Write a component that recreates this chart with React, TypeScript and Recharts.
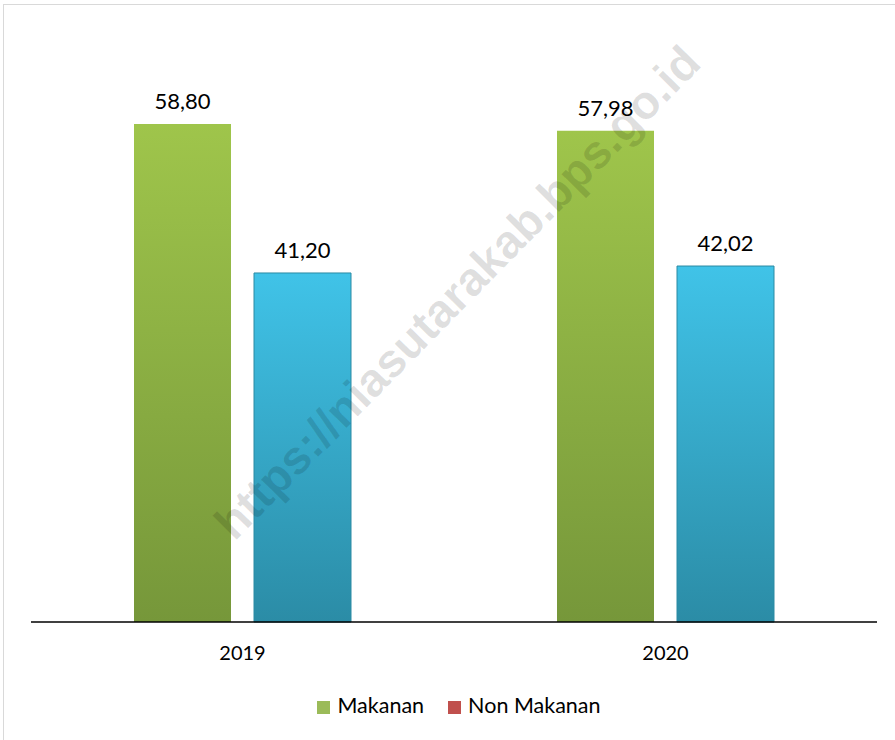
import React from 'react';
import { BarChart, Bar, XAxis, YAxis, Legend, LabelList, Cell } from 'recharts';

// share of expenditure (%) per year
const years = ['2019', '2020'];
const makanan = [58.8, 57.98];
const nonMakanan = [41.2, 42.02];

const data = years.map((year, i) => ({
  year,
  makanan: makanan[i],
  nonMakanan: nonMakanan[i],
}));

const fmt = (v: any) => Number(v).toFixed(2).replace('.', ',');

const FONT = 'Lato, "Open Sans", sans-serif';

const App: React.FC = () => {
  return (
    <div
      style={{
        position: 'absolute',
        left: 0,
        top: 0,
        width: 895,
        height: 740,
        background: '#fff',
        overflow: 'hidden',
        fontFamily: FONT,
      }}
    >
      {/* light frame of the original chart box */}
      <div
        style={{
          position: 'absolute',
          left: 3,
          top: 4,
          width: 900,
          height: 750,
          border: '1px solid #d9d9d9',
        }}
      />
      <BarChart
        width={895}
        height={740}
        data={data}
        margin={{ top: 29, right: 18, left: 31, bottom: 16 }}
        barCategoryGap={103}
        barGap={23}
        style={{ position: 'absolute', left: 0, top: 0 }}
      >
        <defs>
          <linearGradient id="gGreen" x1="0" y1="0" x2="0" y2="1">
            <stop offset="0%" stopColor="#9fc54b" />
            <stop offset="100%" stopColor="#76973a" />
          </linearGradient>
          <linearGradient id="gCyan" x1="0" y1="0" x2="0" y2="1">
            <stop offset="0%" stopColor="#40c3e8" />
            <stop offset="100%" stopColor="#2b8ca6" />
          </linearGradient>
        </defs>
        <XAxis
          dataKey="year"
          height={70}
          tickLine={false}
          tickMargin={18}
          axisLine={{ stroke: '#000', strokeWidth: 1.5 }}
          tick={{ fill: '#000', fontSize: 20, fontFamily: FONT }}
        />
        <YAxis hide domain={[0, 70]} />
        <Legend
          verticalAlign="bottom"
          height={32}
          iconType="square"
          iconSize={13}
          wrapperStyle={{ fontSize: 21.5, fontFamily: FONT, paddingLeft: 17 }}
          formatter={(value) => (
            <span style={{ color: '#000', marginLeft: 3, marginRight: 14 }}>{value}</span>
          )}
        />
        <Bar dataKey="makanan" name="Makanan" fill="#9bbb59" isAnimationActive={false}>
          {data.map((_, i) => (
            <Cell key={i} fill="url(#gGreen)" />
          ))}
          <LabelList
            dataKey="makanan"
            position="top"
            offset={15}
            formatter={fmt}
            style={{ fill: '#000', fontSize: 22, fontFamily: FONT }}
          />
        </Bar>
        <Bar dataKey="nonMakanan" name="Non Makanan" fill="#c0504d" isAnimationActive={false}>
          {data.map((_, i) => (
            <Cell key={i} fill="url(#gCyan)" stroke="#2a8aa3" strokeWidth={1} />
          ))}
          <LabelList
            dataKey="nonMakanan"
            position="top"
            offset={15}
            formatter={fmt}
            style={{ fill: '#000', fontSize: 22, fontFamily: FONT }}
          />
        </Bar>
      </BarChart>
      {/* watermark */}
      <div
        style={{
          position: 'absolute',
          left: 457,
          top: 292,
          transform: 'translate(-50%, -50%) rotate(-45.5deg)',
          whiteSpace: 'nowrap',
          fontFamily: '"Liberation Sans", Arial, sans-serif',
          fontWeight: 'bold',
          fontSize: 47,
          color: 'rgba(0,0,0,0.13)',
          pointerEvents: 'none',
        }}
      >
        https://niasutarakab.bps.go.id
      </div>
    </div>
  );
};

export default App;
